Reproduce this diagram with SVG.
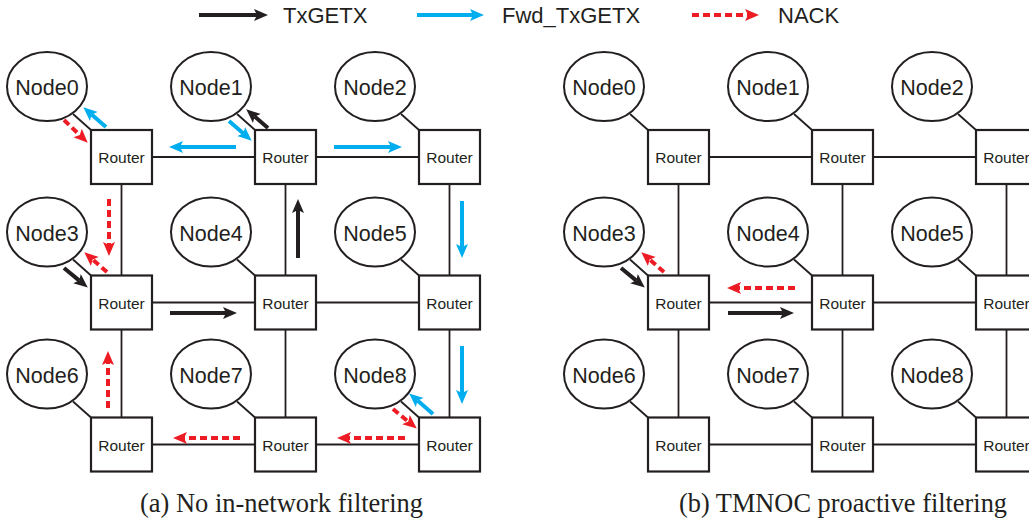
<svg xmlns="http://www.w3.org/2000/svg" width="1029" height="519" viewBox="0 0 1029 519">
<style>
.bg{fill:#fff}
.rt rect{fill:#fff;stroke:#231f20;stroke-width:2.2}
.rt text{font-family:"Liberation Sans",Arial,sans-serif;font-size:15.5px;fill:#231f20;text-anchor:middle}
.nd ellipse{fill:#fff;stroke:#231f20;stroke-width:2}
.nd text{font-family:"Liberation Sans",Arial,sans-serif;font-size:21.5px;fill:#231f20;text-anchor:middle}
.ln{stroke:#231f20;stroke-width:1.8;fill:none}
.ab{stroke:#231f20;stroke-width:4;fill:none;marker-end:url(#hb)}
.au{stroke:#00aeef;stroke-width:4;fill:none;marker-end:url(#hu)}
.ar{stroke:#ed1c24;stroke-width:4;fill:none;stroke-dasharray:7,4;marker-end:url(#hr)}
.lg{font-family:"Liberation Sans",Arial,sans-serif;font-size:22px;fill:#231f20}
.cap{font-family:"Liberation Serif","Times New Roman",serif;font-size:28px;fill:#231f20}
</style>
<defs>
<marker id="hb" markerUnits="userSpaceOnUse" markerWidth="16" markerHeight="14" refX="3" refY="6" orient="auto"><path d="M0,0 L14,6 L0,12 L3,6 z" fill="#231f20"/></marker>
<marker id="hu" markerUnits="userSpaceOnUse" markerWidth="16" markerHeight="14" refX="3" refY="6" orient="auto"><path d="M0,0 L14,6 L0,12 L3,6 z" fill="#00aeef"/></marker>
<marker id="hr" markerUnits="userSpaceOnUse" markerWidth="16" markerHeight="14" refX="3" refY="6" orient="auto"><path d="M0,0 L14,6 L0,12 L3,6 z" fill="#ed1c24"/></marker>
</defs>
<rect class="bg" x="0" y="0" width="1029" height="519"/>

<g id="legend">
<line class="ab" x1="199" y1="15" x2="257" y2="15"/>
<text class="lg" x="283" y="23">TxGETX</text>
<line class="au" x1="417" y1="15" x2="473" y2="15"/>
<text class="lg" x="502" y="23">Fwd_TxGETX</text>
<line class="ar" x1="692" y1="15" x2="748" y2="15"/>
<text class="lg" x="778" y="23">NACK</text>
</g>

<g id="connectors">
<line class="ln" x1="121.5" y1="157" x2="449.5" y2="157"/>
<line class="ln" x1="121.5" y1="302.5" x2="449.5" y2="302.5"/>
<line class="ln" x1="121.5" y1="444.5" x2="449.5" y2="444.5"/>
<line class="ln" x1="121.5" y1="157" x2="121.5" y2="444.5"/>
<line class="ln" x1="285.5" y1="157" x2="285.5" y2="444.5"/>
<line class="ln" x1="449.5" y1="157" x2="449.5" y2="444.5"/>
<line class="ln" x1="73" y1="114" x2="91" y2="130"/>
<line class="ln" x1="237" y1="114" x2="255" y2="130"/>
<line class="ln" x1="401" y1="114" x2="419" y2="130"/>
<line class="ln" x1="73" y1="259.5" x2="91" y2="275.5"/>
<line class="ln" x1="237" y1="259.5" x2="255" y2="275.5"/>
<line class="ln" x1="401" y1="259.5" x2="419" y2="275.5"/>
<line class="ln" x1="73" y1="401.5" x2="91" y2="417.5"/>
<line class="ln" x1="237" y1="401.5" x2="255" y2="417.5"/>
<line class="ln" x1="401" y1="401.5" x2="419" y2="417.5"/>
<line class="ln" x1="678.5" y1="157" x2="1006.5" y2="157"/>
<line class="ln" x1="678.5" y1="302.5" x2="1006.5" y2="302.5"/>
<line class="ln" x1="678.5" y1="444.5" x2="1006.5" y2="444.5"/>
<line class="ln" x1="678.5" y1="157" x2="678.5" y2="444.5"/>
<line class="ln" x1="842.5" y1="157" x2="842.5" y2="444.5"/>
<line class="ln" x1="1006.5" y1="157" x2="1006.5" y2="444.5"/>
<line class="ln" x1="630" y1="114" x2="648" y2="130"/>
<line class="ln" x1="794" y1="114" x2="812" y2="130"/>
<line class="ln" x1="958" y1="114" x2="976" y2="130"/>
<line class="ln" x1="630" y1="259.5" x2="648" y2="275.5"/>
<line class="ln" x1="794" y1="259.5" x2="812" y2="275.5"/>
<line class="ln" x1="958" y1="259.5" x2="976" y2="275.5"/>
<line class="ln" x1="630" y1="401.5" x2="648" y2="417.5"/>
<line class="ln" x1="794" y1="401.5" x2="812" y2="417.5"/>
<line class="ln" x1="958" y1="401.5" x2="976" y2="417.5"/>
</g>

<g id="a-node0" class="nd"><ellipse cx="47" cy="86.5" rx="40" ry="34.5"/><text x="47" y="95">Node0</text></g>
<g id="a-node1" class="nd"><ellipse cx="211" cy="86.5" rx="40" ry="34.5"/><text x="211" y="95">Node1</text></g>
<g id="a-node2" class="nd"><ellipse cx="375" cy="86.5" rx="40" ry="34.5"/><text x="375" y="95">Node2</text></g>
<g id="a-node3" class="nd"><ellipse cx="47" cy="232" rx="40" ry="34.5"/><text x="47" y="240.5">Node3</text></g>
<g id="a-node4" class="nd"><ellipse cx="211" cy="232" rx="40" ry="34.5"/><text x="211" y="240.5">Node4</text></g>
<g id="a-node5" class="nd"><ellipse cx="375" cy="232" rx="40" ry="34.5"/><text x="375" y="240.5">Node5</text></g>
<g id="a-node6" class="nd"><ellipse cx="47" cy="374" rx="40" ry="34.5"/><text x="47" y="382.5">Node6</text></g>
<g id="a-node7" class="nd"><ellipse cx="211" cy="374" rx="40" ry="34.5"/><text x="211" y="382.5">Node7</text></g>
<g id="a-node8" class="nd"><ellipse cx="375" cy="374" rx="40" ry="34.5"/><text x="375" y="382.5">Node8</text></g>

<g id="a-router0" class="rt"><rect x="91" y="130" width="61" height="54"/><text x="121.5" y="163">Router</text></g>
<g id="a-router1" class="rt"><rect x="255" y="130" width="61" height="54"/><text x="285.5" y="163">Router</text></g>
<g id="a-router2" class="rt"><rect x="419" y="130" width="61" height="54"/><text x="449.5" y="163">Router</text></g>
<g id="a-router3" class="rt"><rect x="91" y="275.5" width="61" height="54"/><text x="121.5" y="308.5">Router</text></g>
<g id="a-router4" class="rt"><rect x="255" y="275.5" width="61" height="54"/><text x="285.5" y="308.5">Router</text></g>
<g id="a-router5" class="rt"><rect x="419" y="275.5" width="61" height="54"/><text x="449.5" y="308.5">Router</text></g>
<g id="a-router6" class="rt"><rect x="91" y="417.5" width="61" height="54"/><text x="121.5" y="450.5">Router</text></g>
<g id="a-router7" class="rt"><rect x="255" y="417.5" width="61" height="54"/><text x="285.5" y="450.5">Router</text></g>
<g id="a-router8" class="rt"><rect x="419" y="417.5" width="61" height="54"/><text x="449.5" y="450.5">Router</text></g>

<g id="b-node0" class="nd"><ellipse cx="604" cy="86.5" rx="40" ry="34.5"/><text x="604" y="95">Node0</text></g>
<g id="b-node1" class="nd"><ellipse cx="768" cy="86.5" rx="40" ry="34.5"/><text x="768" y="95">Node1</text></g>
<g id="b-node2" class="nd"><ellipse cx="932" cy="86.5" rx="40" ry="34.5"/><text x="932" y="95">Node2</text></g>
<g id="b-node3" class="nd"><ellipse cx="604" cy="232" rx="40" ry="34.5"/><text x="604" y="240.5">Node3</text></g>
<g id="b-node4" class="nd"><ellipse cx="768" cy="232" rx="40" ry="34.5"/><text x="768" y="240.5">Node4</text></g>
<g id="b-node5" class="nd"><ellipse cx="932" cy="232" rx="40" ry="34.5"/><text x="932" y="240.5">Node5</text></g>
<g id="b-node6" class="nd"><ellipse cx="604" cy="374" rx="40" ry="34.5"/><text x="604" y="382.5">Node6</text></g>
<g id="b-node7" class="nd"><ellipse cx="768" cy="374" rx="40" ry="34.5"/><text x="768" y="382.5">Node7</text></g>
<g id="b-node8" class="nd"><ellipse cx="932" cy="374" rx="40" ry="34.5"/><text x="932" y="382.5">Node8</text></g>

<g id="b-router0" class="rt"><rect x="648" y="130" width="61" height="54"/><text x="678.5" y="163">Router</text></g>
<g id="b-router1" class="rt"><rect x="812" y="130" width="61" height="54"/><text x="842.5" y="163">Router</text></g>
<g id="b-router2" class="rt"><rect x="976" y="130" width="61" height="54"/><text x="1006.5" y="163">Router</text></g>
<g id="b-router3" class="rt"><rect x="648" y="275.5" width="61" height="54"/><text x="678.5" y="308.5">Router</text></g>
<g id="b-router4" class="rt"><rect x="812" y="275.5" width="61" height="54"/><text x="842.5" y="308.5">Router</text></g>
<g id="b-router5" class="rt"><rect x="976" y="275.5" width="61" height="54"/><text x="1006.5" y="308.5">Router</text></g>
<g id="b-router6" class="rt"><rect x="648" y="417.5" width="61" height="54"/><text x="678.5" y="450.5">Router</text></g>
<g id="b-router7" class="rt"><rect x="812" y="417.5" width="61" height="54"/><text x="842.5" y="450.5">Router</text></g>
<g id="b-router8" class="rt"><rect x="976" y="417.5" width="61" height="54"/><text x="1006.5" y="450.5">Router</text></g>

<g id="flows">
<line class="au" x1="106" y1="127" x2="91.6" y2="114.5"/>
<line class="ar" x1="64" y1="120" x2="79.8" y2="135.1"/>
<line class="au" x1="229" y1="121" x2="243.4" y2="133.5"/>
<line class="ab" x1="268" y1="128" x2="254.6" y2="116.5"/>
<line class="au" x1="236" y1="147" x2="180" y2="147"/>
<line class="au" x1="334" y1="147" x2="391" y2="147"/>
<line class="au" x1="462" y1="201" x2="462" y2="247"/>
<line class="au" x1="462" y1="346" x2="462" y2="393"/>
<line class="au" x1="433" y1="414" x2="417.5" y2="400.6"/>
<line class="ar" x1="393" y1="409" x2="408.3" y2="421.6"/>
<line class="ar" x1="405" y1="438" x2="348" y2="438"/>
<line class="ar" x1="240" y1="438" x2="184" y2="438"/>
<line class="ar" x1="108" y1="408" x2="108" y2="362"/>
<line class="ab" x1="170" y1="313" x2="226" y2="313"/>
<line class="ab" x1="64" y1="268" x2="79.3" y2="280.6"/>
<line class="ar" x1="107" y1="272" x2="92.6" y2="259.5"/>
<line class="ar" x1="109" y1="199" x2="109" y2="245"/>
<line class="ab" x1="298" y1="258" x2="298" y2="210"/>
<line class="ab" x1="621" y1="268" x2="636.3" y2="280.6"/>
<line class="ar" x1="664" y1="272" x2="649.6" y2="259.5"/>
<line class="ar" x1="795" y1="288" x2="738" y2="288"/>
<line class="ab" x1="728" y1="313" x2="783" y2="313"/>
</g>

<text class="cap" x="140" y="512" textLength="283" lengthAdjust="spacingAndGlyphs">(a) No in-network filtering</text>
<text class="cap" x="679" y="512" textLength="328" lengthAdjust="spacingAndGlyphs">(b) TMNOC proactive filtering</text>
</svg>
